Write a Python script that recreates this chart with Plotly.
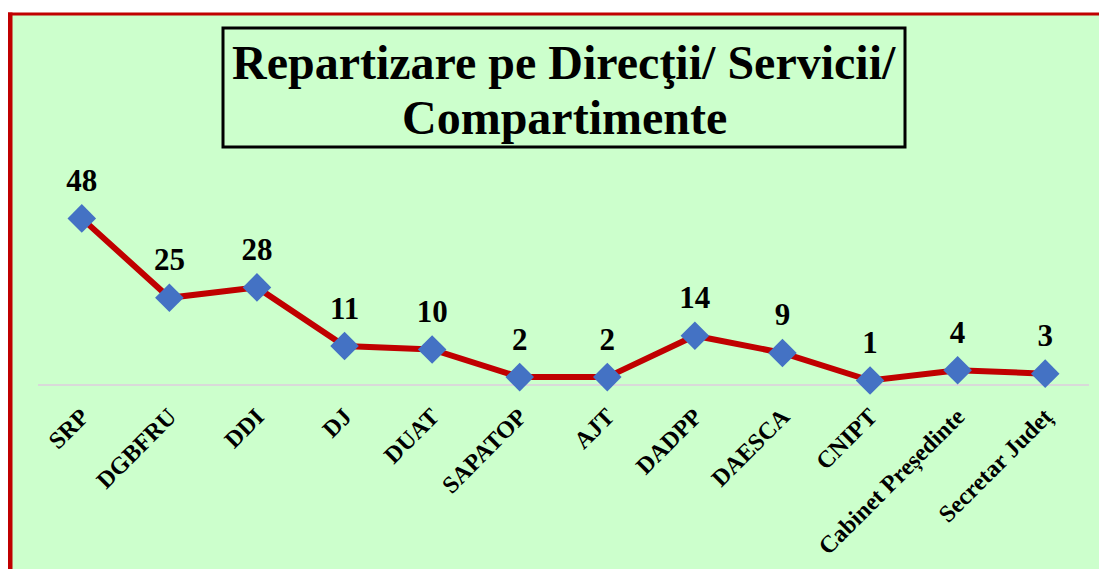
import plotly.graph_objects as go

categories = ["SRP", "DGBFRU", "DDI", "DJ", "DUAT", "SAPATOP", "AJT", "DADPP",
              "DAESCA", "CNIPT", "Cabinet Președinte", "Secretar Județ"]
values = [48, 25, 28, 11, 10, 2, 2, 14, 9, 1, 4, 3]
title_lines = ["Repartizare pe Direcţii/ Servicii/", "Compartimente"]

# page body has an 8px margin; figure coords = page coords - OFF
OFF = 8
W, H = 1107 - OFF, 569 - OFF
L, R, T, B = 38 - OFF, 18, 177 - OFF, 185
PW, PH = W - L - R, H - T - B

def px_x(p):  # p in page pixels
    return (p - OFF - L) / PW

def px_y(p):
    return (H - B - (p - OFF)) / PH

FONT = "Times New Roman, Liberation Serif, serif"
GREEN = "#CCFFCC"
RED = "#C00000"

fig = go.Figure()
fig.add_trace(go.Scatter(
    x=categories, y=values,
    mode="lines+markers",
    line=dict(color=RED, width=6),
    marker=dict(symbol="diamond", size=22, color="#4472C4"),
    cliponaxis=False,
    hoverinfo="skip",
))
fig.add_trace(go.Scatter(
    x=categories, y=values,
    mode="markers+text",
    marker=dict(size=30, color="rgba(0,0,0,0)"),
    text=[f"<b>{v}</b>" for v in values],
    textposition="top center",
    textfont=dict(family=FONT, size=31, color="black"),
    cliponaxis=False,
    hoverinfo="skip",
))

shapes = [
    dict(type="rect", xref="paper", yref="paper", layer="below",
         x0=px_x(10), x1=px_x(1130), y0=px_y(600), y1=px_y(14),
         fillcolor=GREEN, line=dict(width=0)),
    dict(type="line", xref="paper", yref="paper", layer="above",
         x0=px_x(10), x1=px_x(10), y0=px_y(600), y1=px_y(12.5),
         line=dict(color=RED, width=5)),
    dict(type="line", xref="paper", yref="paper", layer="above",
         x0=px_x(7.5), x1=px_x(1130), y0=px_y(14), y1=px_y(14),
         line=dict(color=RED, width=3)),
    dict(type="rect", xref="paper", yref="paper", layer="above",
         x0=px_x(223), x1=px_x(905), y0=px_y(147), y1=px_y(28),
         line=dict(color="black", width=3)),
]

annotations = [
    dict(text=f"<b>{title_lines[0]}</b>", xref="paper", yref="paper",
         x=px_x(564), y=px_y(62), xanchor="center", yanchor="middle",
         showarrow=False, font=dict(family=FONT, size=48, color="black")),
    dict(text=f"<b>{title_lines[1]}</b>", xref="paper", yref="paper",
         x=px_x(564), y=px_y(117), xanchor="center", yanchor="middle",
         showarrow=False, font=dict(family=FONT, size=48, color="black")),
]

fig.update_layout(
    width=W, height=H,
    margin=dict(l=L, r=R, t=T, b=B, pad=0, autoexpand=False),
    paper_bgcolor="white",
    plot_bgcolor="rgba(0,0,0,0)",
    showlegend=False,
    shapes=shapes,
    annotations=annotations,
    xaxis=dict(
        type="category", range=[-0.5, len(categories) - 0.5],
        automargin=False,
        showgrid=False, zeroline=False,
        showline=True, linecolor="#D9D9D9", linewidth=2,
        ticks="", tickangle=-45, ticklabelstandoff=7,
        tickfont=dict(family=FONT, size=24, color="black", weight="bold"),
        layer="below traces",
    ),
    yaxis=dict(range=[0, 60], visible=False, automargin=False,
               showgrid=False, zeroline=False),
)

fig.write_html("out.html")
